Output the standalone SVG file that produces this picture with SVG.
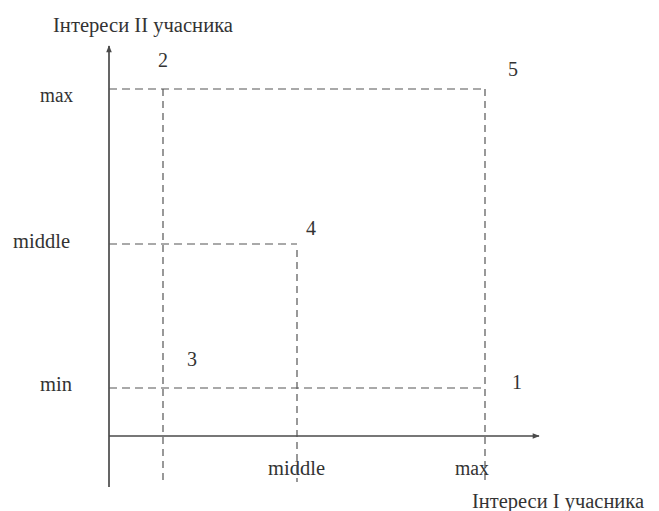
<svg xmlns="http://www.w3.org/2000/svg" width="659" height="511" viewBox="0 0 659 511">
<style>
text{font-family:"Liberation Serif","Times New Roman",serif;font-size:20px;fill:#333}
.axis{stroke:#4a4a4a;stroke-width:1.7;fill:none}
.dash{stroke:#555;stroke-width:1.2;fill:none;stroke-dasharray:8 5}
.vdash{stroke:#555;stroke-width:1.2;fill:none;stroke-dasharray:7 5}
</style>
<defs>
<marker id="arr" viewBox="0 0 10 10" refX="9" refY="5" markerWidth="9" markerHeight="7" markerUnits="userSpaceOnUse" orient="auto">
<path d="M0,1 L10,5 L0,9 z" fill="#4a4a4a"/>
</marker>
</defs>
<rect width="659" height="511" fill="#fff"/>
<g id="connectors">
<line class="axis" x1="109" y1="487" x2="109" y2="46" marker-end="url(#arr)"/>
<line class="axis" x1="109" y1="436" x2="539" y2="436" marker-end="url(#arr)"/>
<line class="dash" x1="109" y1="89" x2="485" y2="89"/>
<line class="vdash" x1="485" y1="89" x2="485" y2="482"/>
<line class="vdash" x1="163" y1="89" x2="163" y2="482"/>
<line class="dash" x1="109" y1="244" x2="297" y2="244"/>
<line class="vdash" x1="297" y1="250" x2="297" y2="482"/>
<line class="dash" x1="109" y1="388" x2="485" y2="388"/>
</g>
<g id="axis-labels">
<text x="53" y="32" textLength="180" lengthAdjust="spacingAndGlyphs">Інтереси ІІ учасника</text>
<text x="472" y="508" textLength="172" lengthAdjust="spacingAndGlyphs">Інтереси І учасника</text>
<text x="40" y="102" textLength="33" lengthAdjust="spacingAndGlyphs">max</text>
<text x="13" y="248" textLength="57" lengthAdjust="spacingAndGlyphs">middle</text>
<text x="40" y="391" textLength="32" lengthAdjust="spacingAndGlyphs">min</text>
<text x="268" y="475" textLength="57" lengthAdjust="spacingAndGlyphs">middle</text>
<text x="455" y="475" textLength="34" lengthAdjust="spacingAndGlyphs">max</text>
</g>
<g id="node-1"><text x="512" y="389">1</text></g>
<g id="node-2"><text x="158" y="67">2</text></g>
<g id="node-3"><text x="187" y="366">3</text></g>
<g id="node-4"><text x="306" y="235">4</text></g>
<g id="node-5"><text x="508" y="76">5</text></g>
</svg>
